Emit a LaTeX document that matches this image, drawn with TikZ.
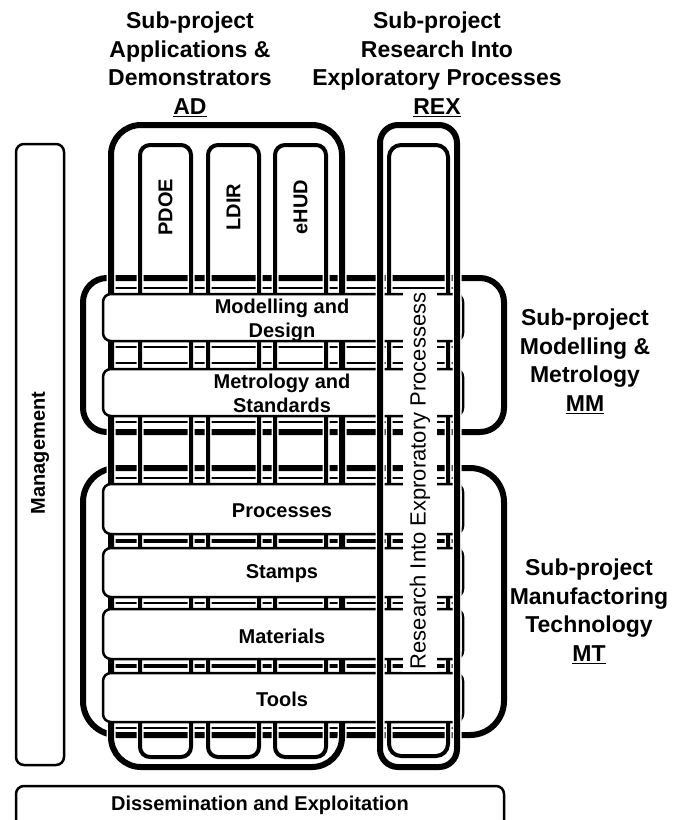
\documentclass[tikz,border=0pt]{standalone}
\usepackage{fontspec}
\setmainfont{Liberation Sans}
\begin{document}
\begin{tikzpicture}[x=1pt,y=-1pt,
  plainbox/.style={draw=black, fill=white, line width=2.5pt, rounded corners=8pt},
  thickframe/.style={draw=black, line width=6pt, preaction={draw=white, line width=9pt}},
  subframe/.style={draw=black, line width=6pt},
  colframe/.style={draw=black, line width=4pt, preaction={draw=white, line width=7pt}},
  rowbox/.style={draw=black, fill=white, line width=2.5pt, rounded corners=8pt},
  rungline/.style={draw=black, line width=2pt},
  titletext/.style={font=\fontsize{23}{28.5}\selectfont\bfseries, align=center, inner sep=0pt, anchor=north},
  boxtext/.style={font=\fontsize{20}{24}\selectfont\bfseries, align=center, inner sep=0pt},
  rextext/.style={font=\fontsize{22}{24}\selectfont, fill=white, inner xsep=3pt, inner ysep=7pt, rotate=90}
]
\useasboundingbox (0,0) rectangle (673,820);

% Management and Dissemination
\draw[plainbox] (16,144) rectangle (64,765);
\node[boxtext, rotate=90] (mgmt) at (40,453) {Management};
\draw[plainbox] (16,786) rectangle (504,845);
\node[boxtext] (diss) at (260,805) {Dissemination and Exploitation};

% Sub-project frames MM and MT
\draw[subframe, rounded corners=24pt] (83,278) rectangle (504,432);
\draw[subframe, rounded corners=34pt] (83,468) rectangle (504,735);

% rungs behind the rows
\foreach \t/\b in {288/347, 363/422, 478/540, 542/603, 603/665, 667/728}
  \draw[rungline] (111,\t) rectangle (457,\b);

% AD columns and REX inner column
\draw[colframe, rounded corners=10pt] (140,145) rectangle (191,757);
\draw[colframe, rounded corners=10pt] (208,145) rectangle (259,757);
\draw[colframe, rounded corners=10pt] (275,145) rectangle (326,757);
\draw[colframe, rounded corners=12pt] (389,145) rectangle (448,756);
\node[boxtext, rotate=90] (pdoe) at (165.5,207) {PDOE};
\node[boxtext, rotate=90] (ldir) at (233.5,207) {LDIR};
\node[boxtext, rotate=90] (ehud) at (300.5,207) {eHUD};

% AD frame
\draw[thickframe, rounded corners=30pt] (111,125) rectangle (342,767);

% work-package rows
\draw[rowbox] (103,294) rectangle (463,341);
\node[boxtext] (mod) at (282,320) {Modelling and\\Design};
\draw[rowbox] (103,369) rectangle (463,416);
\node[boxtext] (met) at (282,393) {Metrology and\\Standards};
\draw[rowbox] (103,484) rectangle (463,534);
\node[boxtext] (proc) at (282,511) {Processes};
\draw[rowbox] (103,548) rectangle (463,597);
\node[boxtext] (stamps) at (282,574) {Stamps};
\draw[rowbox] (103,609) rectangle (463,659);
\node[boxtext] (mat) at (282,636) {Materials};
\draw[rowbox] (103,673) rectangle (463,722);
\node[boxtext] (tools) at (282,699) {Tools};

% REX frame on top
\draw[thickframe, rounded corners=18pt] (380,125) rectangle (457,767);
\node[rextext] (rex) at (420,481) {Research Into Exproratory Processess};

% titles
\node[titletext] (tad) at (190,12) {Sub-project\\Applications \&\\Demonstrators\\\underline{AD}};
\node[titletext] (trex) at (437,12) {Sub-project\\Research Into\\Exploratory Processes\\\underline{REX}};
\node[titletext] (tmm) at (585,309) {Sub-project\\Modelling \&\\Metrology\\\underline{MM}};
\node[titletext] (tmt) at (589,559) {Sub-project\\Manufactoring\\Technology\\\underline{MT}};
\end{tikzpicture}
\end{document}
